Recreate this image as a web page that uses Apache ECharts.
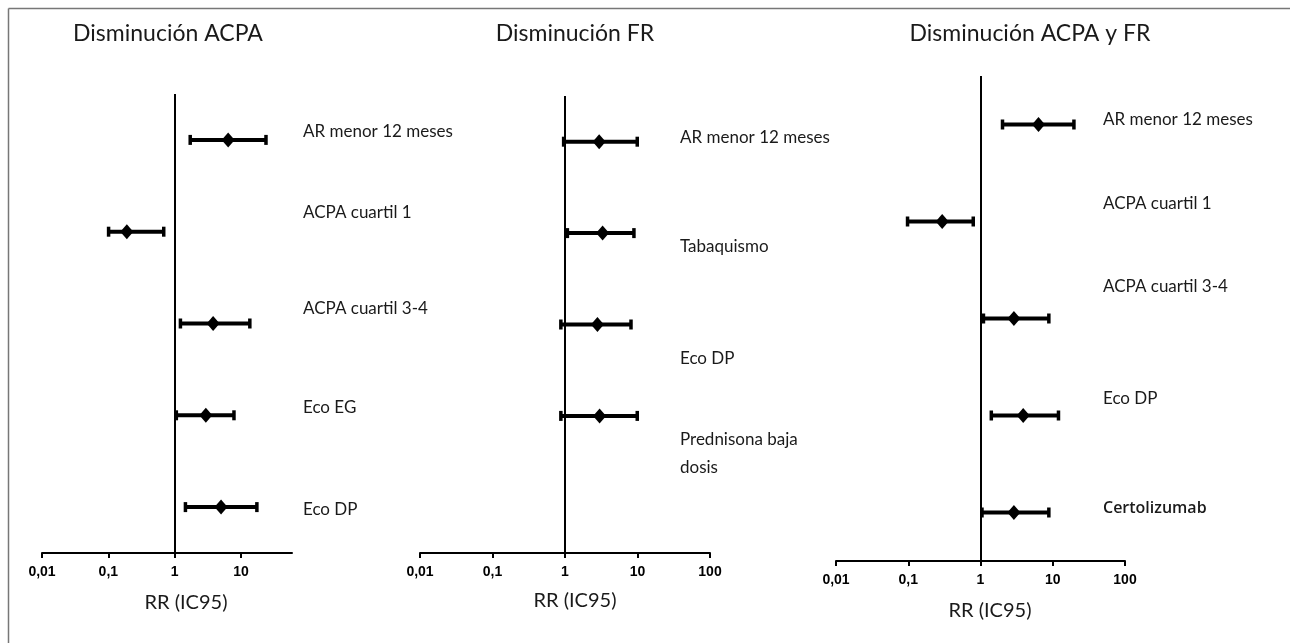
<!DOCTYPE html>
<html>
<head>
<meta charset="utf-8">
<script src="https://cdn.jsdelivr.net/npm/echarts@6/dist/echarts.min.js"></script>
<style>
html,body{margin:0;padding:0;background:#fff;}
#chart{width:1290px;height:643px;}
</style>
</head>
<body>
<div id="chart"></div>
<script>
// ---- data ----
const titles = ['Disminución ACPA', 'Disminución FR', 'Disminución ACPA y FR'];
const axisName = 'RR (IC95)';
const xTicks1 = [0.01, 0.1, 1, 10];
const xTicks = [0.01, 0.1, 1, 10, 100];

const labels1 = ['AR menor 12 meses', 'ACPA cuartil 1', 'ACPA cuartil 3-4', 'Eco EG', 'Eco DP'];
const est1 = [6.4, 0.19, 3.8, 2.95, 5.0];
const lo1  = [1.7, 0.10, 1.21, 1.05, 1.44];
const hi1  = [24, 0.69, 13.7, 7.9, 17.5];

const labels2 = ['AR menor 12 meses', 'Tabaquismo', 'Eco DP', 'Prednisona baja\ndosis'];
const est2 = [2.96, 3.3, 2.8, 3.0];
const lo2  = [0.95, 1.07, 0.87, 0.87];
const hi2  = [10, 9.0, 8.2, 10];

const labels3 = ['AR menor 12 meses', 'ACPA cuartil 1', 'ACPA cuartil 3-4', 'Eco DP', 'Certolizumab'];
const est3 = [6.35, 0.295, 2.9, 3.9, 2.9];
const lo3  = [2.0, 0.097, 1.09, 1.4, 1.04];
const hi3  = [19.8, 0.80, 8.9, 12.1, 8.9];

// ---- layout (not data) ----
const panels = [
  {labels: labels1, est: est1, lo: lo1, hi: hi1, ticks: xTicks1, xMax: 58.7,
   grid: {left: 42, width: 250, top: 94, height: 459},
   labelDx: 11, labelDy: [-8, -19, -15, -8, 2], titleX: 168, nameX: 186, nameY: 603},
  {labels: labels2, est: est2, lo: lo2, hi: hi2, ticks: xTicks, xMax: 100,
   grid: {left: 420, width: 290, top: 96, height: 457},
   labelDx: -30, labelDy: [-4, 13, 34, 38], titleX: 575, nameX: 575, nameY: 601},
  {labels: labels3, est: est3, lo: lo3, hi: hi3, ticks: xTicks, xMax: 100,
   grid: {left: 836, width: 289, top: 76, height: 485},
   labelDx: -22, labelDy: [-5, -18, -32, -17, -4], titleX: 1030, nameX: 990, nameY: 611}
];

const TEXT_FONT = 'Lato';
const TEXT_COLOR = '#1a1a1a';
const fmt = v => String(+Number(v).toPrecision(3)).replace('.', ',');

const grids = [], xAxes = [], yAxes = [], series = [], graphics = [];

panels.forEach((p, k) => {
  grids.push(Object.assign({containLabel: false}, p.grid));
  xAxes.push({
    type: 'log', logBase: 10, gridIndex: k, min: 0.01, max: p.xMax,
    axisLine: {show: true, onZero: false, lineStyle: {color: '#000', width: 2}},
    axisTick: {show: true, length: 5, lineStyle: {color: '#000', width: 2}, customValues: p.ticks},
    axisLabel: {customValues: p.ticks, formatter: fmt, color: '#000', fontFamily: 'Liberation Sans',
                fontWeight: 'bold', fontSize: 14, margin: 12},
    splitLine: {show: false}, minorTick: {show: false}
  });
  yAxes.push({
    type: 'value', gridIndex: k, inverse: true, min: -0.5, max: 4.5, show: false
  });
  const data = p.est.map((e, i) => [p.lo[i], p.hi[i], e, i]);
  series.push({
    type: 'custom', xAxisIndex: k, yAxisIndex: k, data: data,
    encode: {x: [0, 1, 2], y: 3},
    clip: false, silent: true,
    renderItem: function (params, api) {
      const idx = params.dataIndex;
      const row = api.value(3);
      const a = api.coord([api.value(0), row]);
      const b = api.coord([api.value(1), row]);
      const c = api.coord([api.value(2), row]);
      const cs = params.coordSys;
      const y = a[1];
      const lbl = p.labels[idx];
      const isCerto = lbl === 'Certolizumab';
      return {
        type: 'group',
        children: [
          {type: 'line', shape: {x1: a[0], y1: y, x2: b[0], y2: y},
           style: {stroke: '#000', lineWidth: 4}},
          {type: 'rect', shape: {x: a[0] - 1.5, y: y - 5, width: 3.5, height: 10}, style: {fill: '#000'}},
          {type: 'rect', shape: {x: b[0] - 2, y: y - 5, width: 3.5, height: 10}, style: {fill: '#000'}},
          {type: 'polygon', shape: {points: [[c[0], y - 7.5], [c[0] + 6.5, y], [c[0], y + 7.5], [c[0] - 6.5, y]]},
           style: {fill: '#000'}},
          {type: 'text', x: cs.x + cs.width + p.labelDx, y: y + p.labelDy[idx],
           style: {text: lbl, fill: TEXT_COLOR,
                   font: isCerto ? '600 16px "Open Sans"' : '17px ' + TEXT_FONT,
                   lineHeight: 28, align: 'left', verticalAlign: 'middle'}}
        ]
      };
    },
    markLine: {
      silent: true, symbol: 'none', animation: false,
      label: {show: false},
      lineStyle: {color: '#000', width: 2, type: 'solid'},
      data: [{xAxis: 1}]
    }
  });
  graphics.push({type: 'text', x: p.titleX, y: 34,
    style: {text: titles[k], font: '23px ' + TEXT_FONT, fill: TEXT_COLOR, align: 'center', verticalAlign: 'middle'}});
  graphics.push({type: 'text', x: p.nameX, y: p.nameY,
    style: {text: axisName, font: '20px ' + TEXT_FONT, fill: TEXT_COLOR, align: 'center', verticalAlign: 'middle'}});
});

graphics.push({type: 'line', shape: {x1: 8.5, y1: 8.5, x2: 1290, y2: 8.5}, style: {stroke: '#777', lineWidth: 1.5}});
graphics.push({type: 'line', shape: {x1: 8.5, y1: 8.5, x2: 8.5, y2: 643}, style: {stroke: '#777', lineWidth: 1.5}});

const chart = echarts.init(document.getElementById('chart'), null, {renderer: 'canvas'});
chart.setOption({
  animation: false,
  backgroundColor: '#fff',
  grid: grids, xAxis: xAxes, yAxis: yAxes, series: series,
  graphic: graphics
});
</script>
</body>
</html>
